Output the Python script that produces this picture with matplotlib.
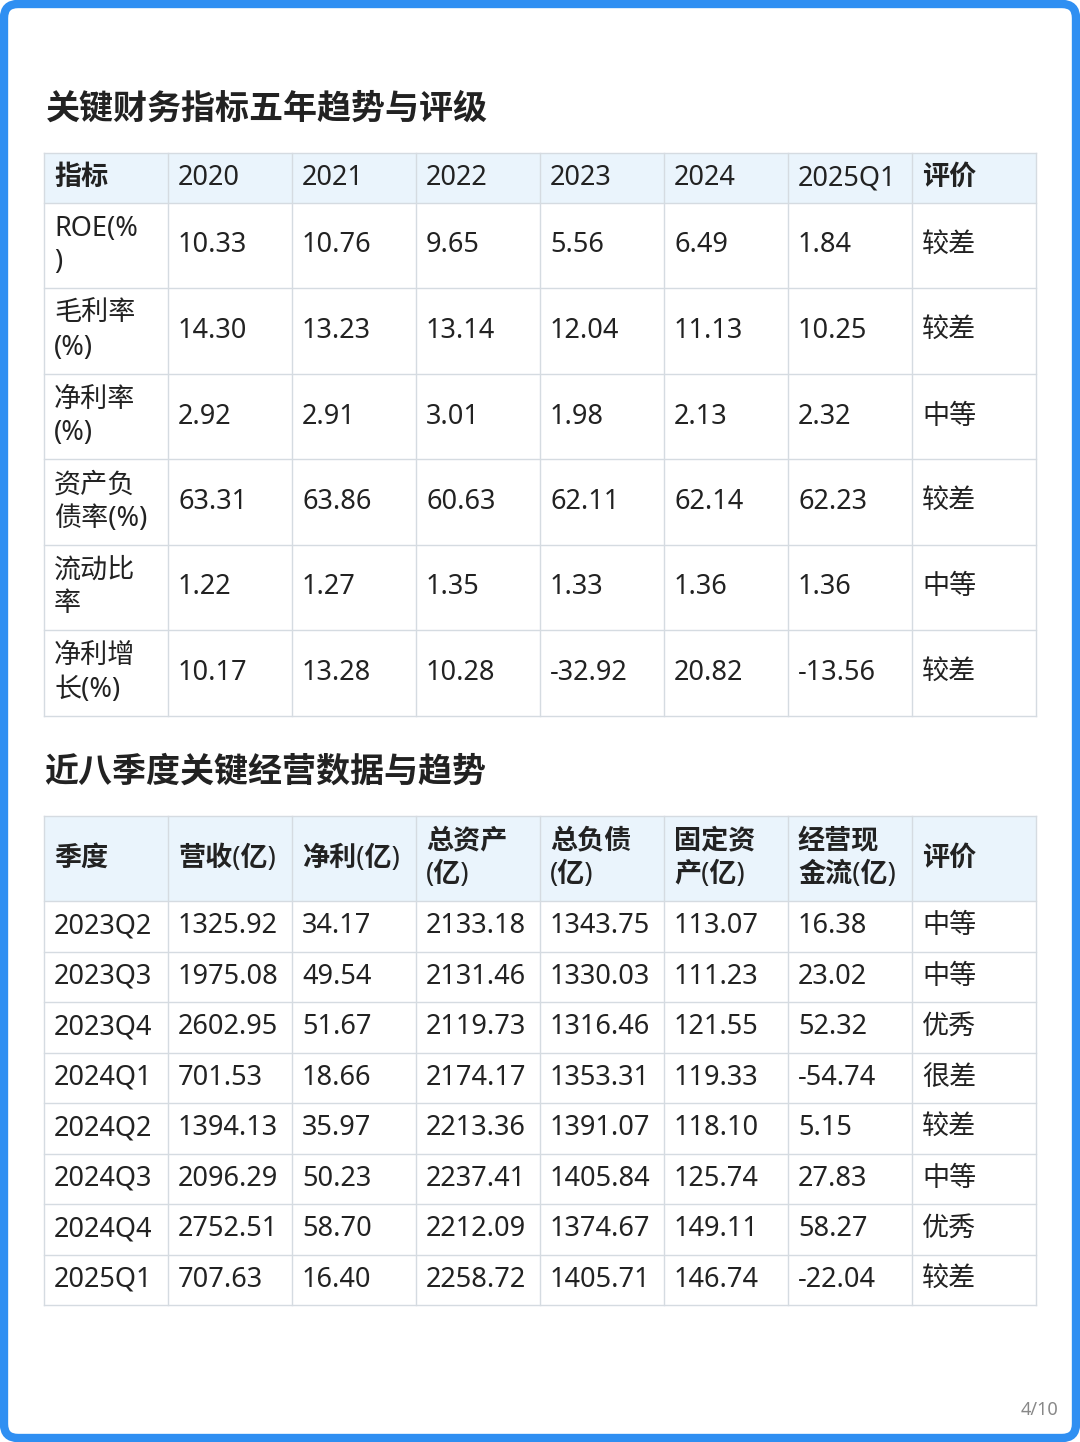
import matplotlib
matplotlib.use("Agg")
import matplotlib.pyplot as plt
from matplotlib.patches import FancyBboxPatch, Rectangle

plt.rcParams['font.family'] = ['Noto Sans', 'Noto Sans CJK SC', 'DejaVu Sans']

title1 = "关键财务指标五年趋势与评级"
header1 = ["指标", "2020", "2021", "2022", "2023", "2024", "2025Q1", "评价"]
metrics1 = ["ROE(%\n)", "毛利率\n(%)", "净利率\n(%)", "资产负\n债率(%)", "流动比\n率", "净利增\n长(%)"]
values1 = [
    ["10.33", "10.76", "9.65", "5.56", "6.49", "1.84"],
    ["14.30", "13.23", "13.14", "12.04", "11.13", "10.25"],
    ["2.92", "2.91", "3.01", "1.98", "2.13", "2.32"],
    ["63.31", "63.86", "60.63", "62.11", "62.14", "62.23"],
    ["1.22", "1.27", "1.35", "1.33", "1.36", "1.36"],
    ["10.17", "13.28", "10.28", "-32.92", "20.82", "-13.56"],
]
ratings1 = ["较差", "较差", "中等", "较差", "中等", "较差"]

title2 = "近八季度关键经营数据与趋势"
header2 = ["季度", "营收(亿)", "净利(亿)", "总资产\n(亿)", "总负债\n(亿)", "固定资\n产(亿)", "经营现\n金流(亿)", "评价"]
quarters2 = ["2023Q2", "2023Q3", "2023Q4", "2024Q1", "2024Q2", "2024Q3", "2024Q4", "2025Q1"]
revenue2 = ["1325.92", "1975.08", "2602.95", "701.53", "1394.13", "2096.29", "2752.51", "707.63"]
profit2 = ["34.17", "49.54", "51.67", "18.66", "35.97", "50.23", "58.70", "16.40"]
assets2 = ["2133.18", "2131.46", "2119.73", "2174.17", "2213.36", "2237.41", "2212.09", "2258.72"]
debt2 = ["1343.75", "1330.03", "1316.46", "1353.31", "1391.07", "1405.84", "1374.67", "1405.71"]
fixed2 = ["113.07", "111.23", "121.55", "119.33", "118.10", "125.74", "149.11", "146.74"]
cash2 = ["16.38", "23.02", "52.32", "-54.74", "5.15", "27.83", "58.27", "-22.04"]
ratings2 = ["中等", "中等", "优秀", "很差", "较差", "中等", "优秀", "较差"]

W, H = 1080, 1442
fig = plt.figure(figsize=(W / 100, H / 100), dpi=100)
ax = fig.add_axes([0, 0, 1, 1])
ax.set_xlim(0, W)
ax.set_ylim(H, 0)
ax.axis('off')

ax.add_patch(FancyBboxPatch((4, 4), W - 8, H - 8, boxstyle="round,pad=0,rounding_size=14",
                            fc='white', ec='#2f8ff2', lw=6))

TXT = '#222222'
GRID = '#d5dbe1'
HEAD = '#eaf4fc'
cols = [44 + 124 * i for i in range(9)]


def draw_table(rows_y, header, body):
    ax.add_patch(Rectangle((cols[0], rows_y[0]), cols[-1] - cols[0], rows_y[1] - rows_y[0],
                           fc=HEAD, ec='none'))
    for y in rows_y:
        ax.plot([cols[0], cols[-1]], [y, y], color=GRID, lw=1)
    for x in cols:
        ax.plot([x, x], [rows_y[0], rows_y[-1]], color=GRID, lw=1)
    for j, t in enumerate(header):
        ax.text(cols[j] + 10, (rows_y[0] + rows_y[1]) / 2, t, fontsize=19.5, fontweight='bold',
                color=TXT, va='center', ha='left', linespacing=1.25)
    for i, row in enumerate(body):
        yc = (rows_y[i + 1] + rows_y[i + 2]) / 2
        for j, t in enumerate(row):
            ax.text(cols[j] + 10, yc, t, fontsize=19.5, color=TXT, va='center', ha='left',
                    linespacing=1.25)


ax.text(46, 110, title1, fontsize=24.5, fontweight='bold', color=TXT, va='center')
r1 = [153, 203, 288, 374, 459, 545, 630, 716]
body1 = [[metrics1[i]] + values1[i] + [ratings1[i]] for i in range(len(metrics1))]
draw_table(r1, header1, body1)

ax.text(44, 773, title2, fontsize=24.5, fontweight='bold', color=TXT, va='center')
r2 = [816, 901] + [901 + 50.5 * (k + 1) for k in range(8)]
body2 = [[quarters2[i], revenue2[i], profit2[i], assets2[i], debt2[i], fixed2[i], cash2[i], ratings2[i]]
         for i in range(len(quarters2))]
draw_table(r2, header2, body2)

ax.text(1058, 1410, "4/10", fontsize=13, color='#888888', ha='right', va='center')

fig.savefig("out.png", dpi=100)
